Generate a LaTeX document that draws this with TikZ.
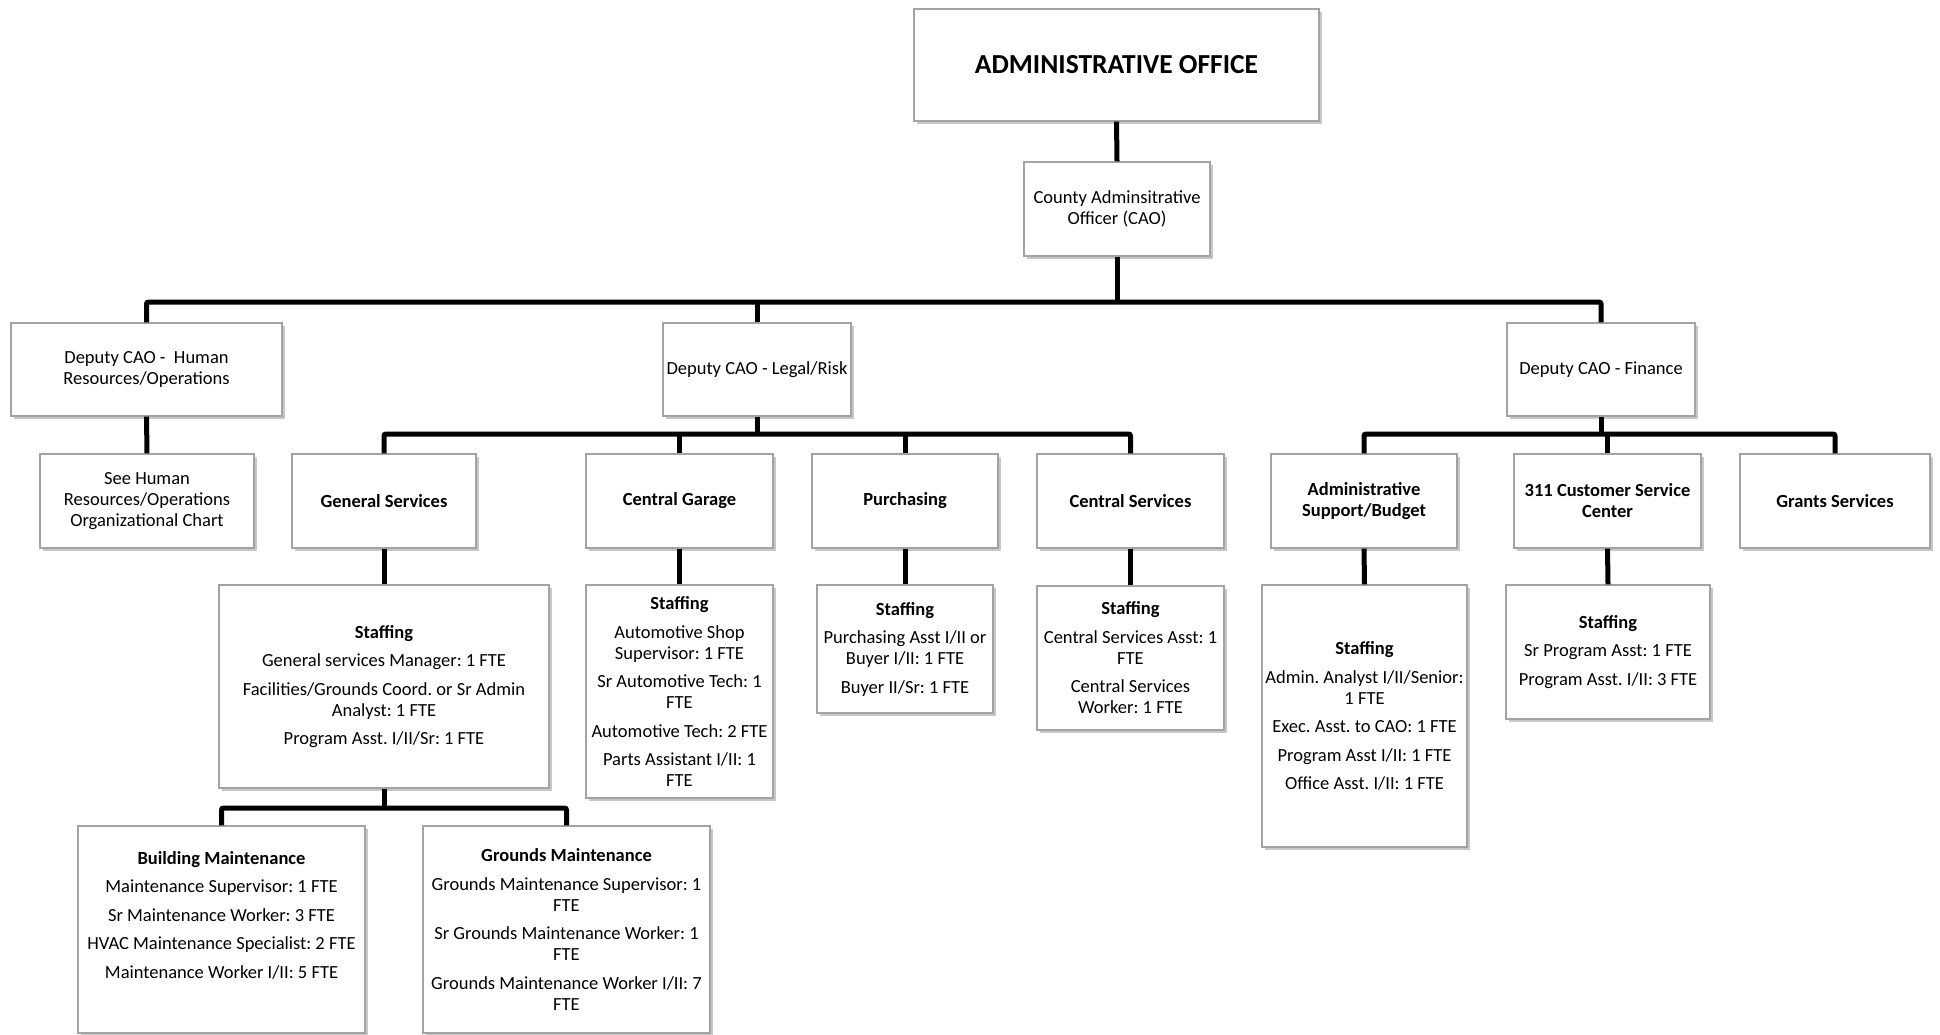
\documentclass[tikz,border=0pt]{standalone}
\usepackage{fontspec}
\setmainfont{Carlito}
\usetikzlibrary{shadows}
\definecolor{boxgray}{HTML}{A3A3A3}
\tikzset{
  box/.style={draw=boxgray, line width=1.3pt, fill=white, align=center, inner sep=0pt,
    font=\fontsize{18.5}{21}\selectfont,
    drop shadow={shadow xshift=2.5pt, shadow yshift=-3pt, fill=black, opacity=.22}},
  hd/.style={box, font=\fontsize{18.5}{21}\selectfont\bfseries},
  txt/.style={align=center, inner sep=0pt, font=\fontsize{18.5}{21}\selectfont},
  conn/.style={draw=black, line width=5pt, rounded corners=2pt}
}
\newcommand{\gp}{\\[7.5pt]}
\frenchspacing
\begin{document}
\frenchspacing
\begin{tikzpicture}[x=1pt, y=-1pt]
\fill[white] (0,0) rectangle (1940,1035);
\useasboundingbox (0,0) rectangle (1940,1035);

% top
\node[box, minimum width=405pt, minimum height=112pt, font=\fontsize{27.5}{30}\selectfont\bfseries] (ao) at (1116.5,65) {ADMINISTRATIVE OFFICE};
\node[box, minimum width=186pt, minimum height=94pt] (cao) at (1117,209) {County Adminsitrative\\Officer (CAO)};

% deputies
\node[box, minimum width=271pt, minimum height=93pt] (hr) at (146.5,369.5) {Deputy CAO -\ \ Human\\Resources/Operations};
\node[box, minimum width=188pt, minimum height=93pt] (legal) at (757,369.5) {Deputy CAO - Legal/Risk};
\node[box, minimum width=188pt, minimum height=93pt] (fin) at (1601,369.5) {Deputy CAO - Finance};

% divisions
\node[box, minimum width=214pt, minimum height=94pt] (seehr) at (147,501) {See Human\\Resources/Operations\\Organizational Chart};
\node[hd, minimum width=184pt, minimum height=94pt] (gs) at (384,501) {General Services};
\node[hd, minimum width=187pt, minimum height=94pt] (cg) at (679.5,501) {Central Garage};
\node[hd, minimum width=186pt, minimum height=94pt] (pur) at (905,501) {Purchasing};
\node[hd, minimum width=187pt, minimum height=94pt] (cs) at (1130.5,501) {Central Services};
\node[hd, minimum width=186pt, minimum height=94pt] (asb) at (1364,501) {Administrative\\Support/Budget};
\node[hd, minimum width=187pt, minimum height=94pt] (c311) at (1607.5,501) {311 Customer Service\\Center};
\node[hd, minimum width=190pt, minimum height=94pt] (gr) at (1835,501) {Grants Services};

% staffing
\node[box, minimum width=330pt, minimum height=203pt] (gsst) at (384,686.5) {\textbf{Staffing}\gp General services Manager: 1 FTE\gp Facilities/Grounds Coord. or Sr Admin\\Analyst: 1 FTE\gp Program Asst. I/II/Sr: 1 FTE};
\node[box, minimum width=187pt, minimum height=213pt] (cgst) at (679.5,691.5) {\textbf{Staffing}\gp Automotive Shop\\Supervisor: 1 FTE\gp Sr Automotive Tech: 1\\FTE\gp Automotive Tech: 2 FTE\gp Parts Assistant I/II: 1\\FTE};
\node[box, minimum width=176pt, minimum height=128pt] (purst) at (905,649) {\textbf{Staffing}\gp Purchasing Asst I/II or\\Buyer I/II: 1 FTE\gp Buyer II/Sr: 1 FTE};
\node[box, minimum width=187pt, minimum height=144pt] (csst) at (1130.5,658) {\textbf{Staffing}\gp Central Services Asst: 1\\FTE\gp Central Services\\Worker: 1 FTE};
\node[box, minimum width=205pt, minimum height=262pt] (asst) at (1364.5,716) {\textbf{Staffing}\gp Admin. Analyst I/II/Senior:\\1 FTE\gp Exec. Asst. to CAO: 1 FTE\gp Program Asst I/II: 1 FTE\gp Office Asst. I/II: 1 FTE};
\node[box, minimum width=204pt, minimum height=134pt] (st311) at (1608,652) {\textbf{Staffing}\gp Sr Program Asst: 1 FTE\gp Program Asst. I/II: 3 FTE};

% maintenance
\node[box, minimum width=287pt, minimum height=207pt] (bm) at (221.5,929.5) {};
\node[txt] (bmt) at (221.5,915) {\textbf{Building Maintenance}\gp Maintenance Supervisor: 1 FTE\gp Sr Maintenance Worker: 3 FTE\gp HVAC Maintenance Specialist: 2 FTE\gp Maintenance Worker I/II: 5 FTE};
\node[box, minimum width=287pt, minimum height=207pt] (gm) at (566.5,929.5) {\textbf{Grounds Maintenance}\gp Grounds Maintenance Supervisor: 1\\FTE\gp Sr Grounds Maintenance Worker: 1\\FTE\gp Grounds Maintenance Worker I/II: 7\\FTE};

% connectors
\coordinate (b1) at (1117,302);
\coordinate (b2) at (757,434);
\coordinate (b3) at (1601,434);
\coordinate (b4) at (384,808);
\draw[conn] (ao.south) -- (cao.north);
\draw[conn] (cao.south) -- (b1);
\draw[conn] (hr.north) |- (b1) -| (fin.north);
\draw[conn] (legal.north) -- (legal.north |- b1);
\draw[conn] (hr.south) -- (seehr.north);
\draw[conn] (legal.south) -- (b2);
\draw[conn] (gs.north) |- (b2) -| (cs.north);
\draw[conn] (cg.north) -- (cg.north |- b2);
\draw[conn] (pur.north) -- (pur.north |- b2);
\draw[conn] (fin.south) -- (b3);
\draw[conn] (asb.north) |- (b3) -| (gr.north);
\draw[conn] (c311.north) -- (c311.north |- b3);
\draw[conn] (gs.south) -- (gsst.north);
\draw[conn] (cg.south) -- (cgst.north);
\draw[conn] (pur.south) -- (purst.north);
\draw[conn] (cs.south) -- (csst.north);
\draw[conn] (asb.south) -- (asst.north);
\draw[conn] (c311.south) -- (st311.north);
\draw[conn] (gsst.south) -- (b4);
\draw[conn] (bm.north) |- (b4) -| (gm.north);
\end{tikzpicture}
\end{document}
